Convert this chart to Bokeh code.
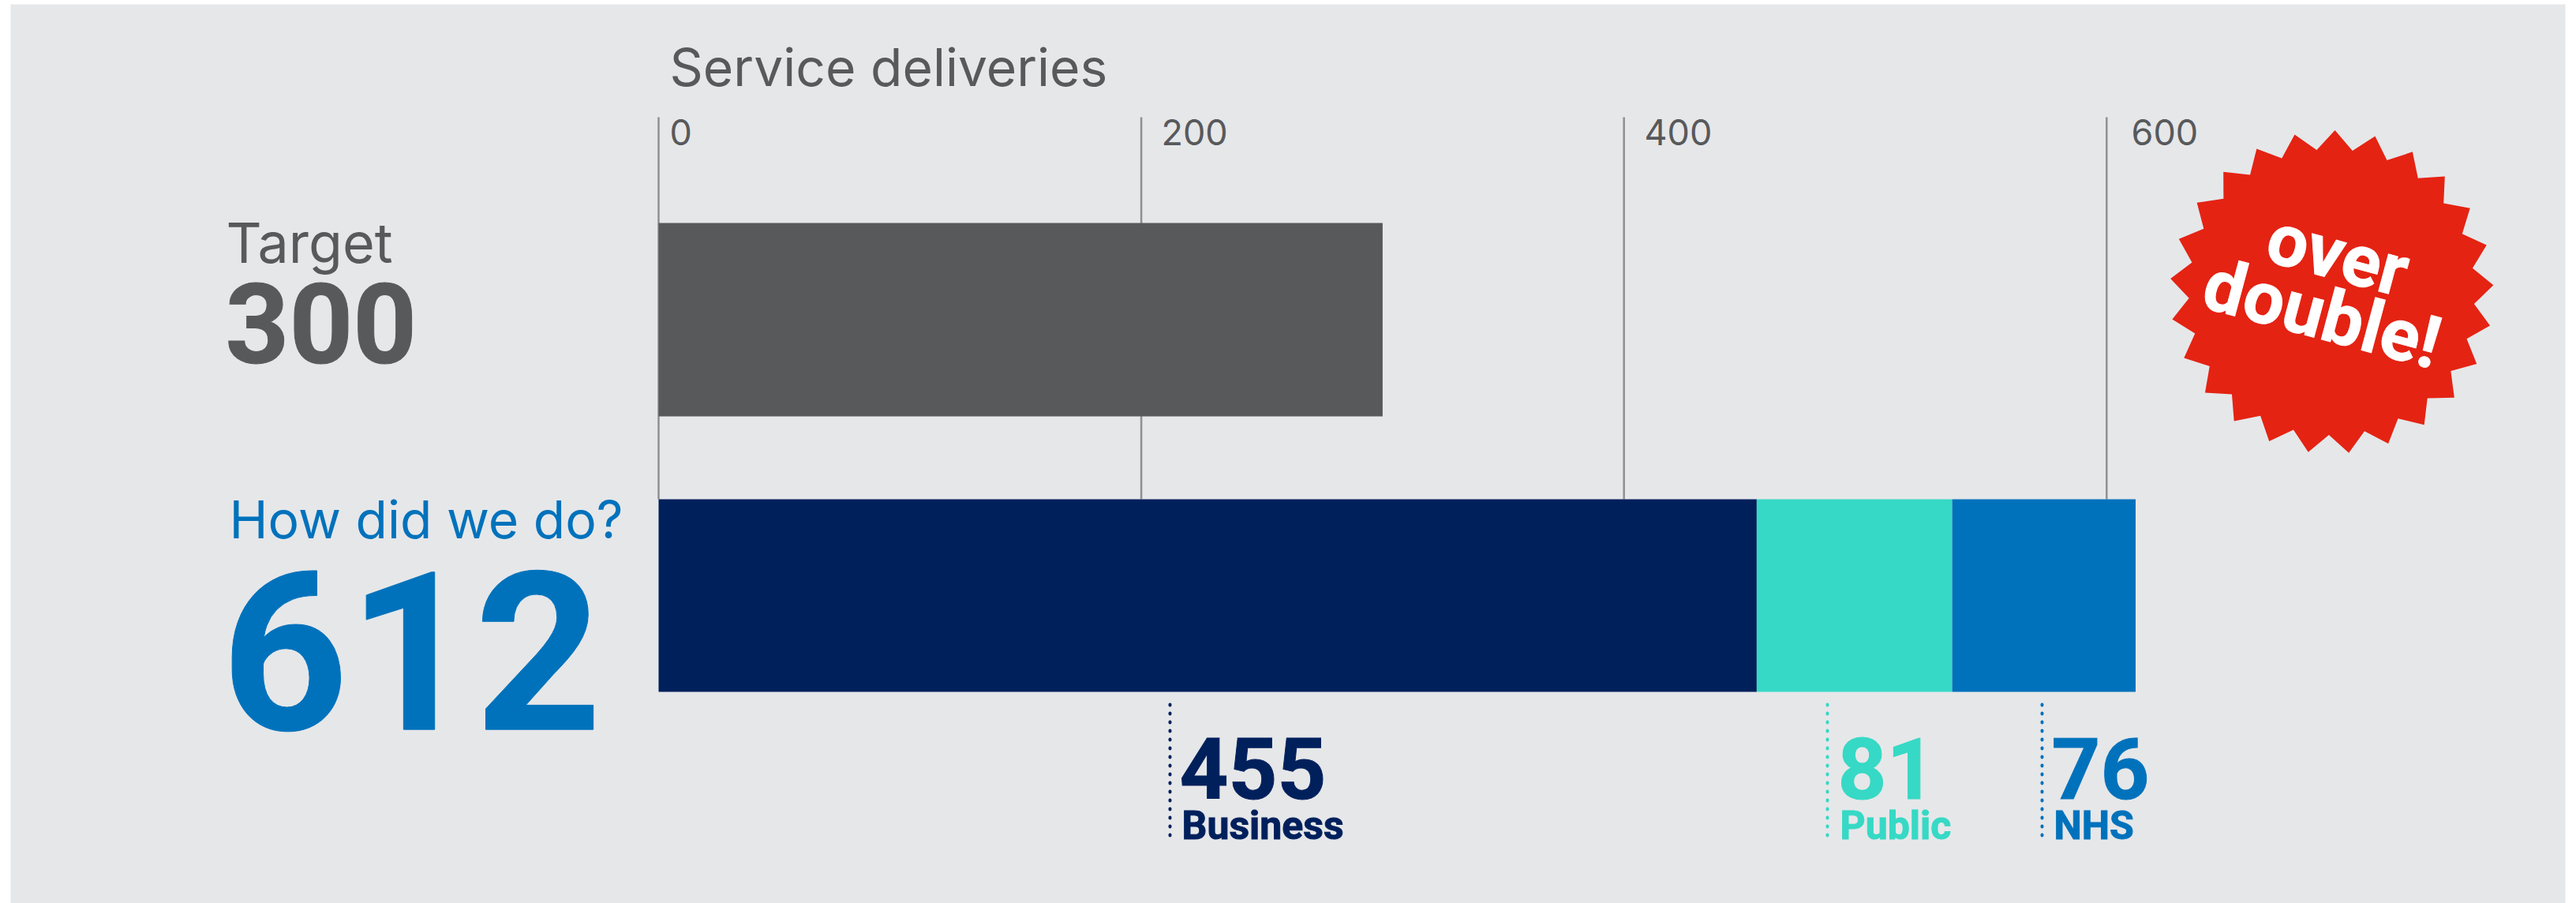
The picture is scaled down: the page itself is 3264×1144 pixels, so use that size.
from bokeh.core.properties import value
from bokeh.embed import file_html
from bokeh.models import Range1d
from bokeh.plotting import figure
from bokeh.resources import INLINE
import numpy as np

# Service delivery figures
ticks = [0, 200, 400, 600]
tick_labels = ["0", "200", "400", "600"]
target = 300
actual = 612
segment_names = ["Business", "Public", "NHS"]
segment_values = [455, 81, 76]

BG = "#E6E7E9"
GREY = "#58595B"
NAVY = "#00205C"
TEAL = "#36D9C5"
BLUE = "#0072BC"
RED = "#E42313"
seg_colors = [NAVY, TEAL, BLUE]

W, H = 3264, 1144
X0, PX_PER = 834.0, 3.058

p = figure(width=W, height=H, output_backend="svg", toolbar_location=None,
           x_range=Range1d(-X0 / PX_PER, (W - X0) / PX_PER),
           y_range=Range1d(H, 0), min_border=0,
           x_axis_location=None, y_axis_location=None,
           background_fill_color="white", border_fill_color="white",
           outline_line_color=None)
p.extra_x_ranges["px"] = Range1d(0, W)
p.xgrid.visible = False
p.ygrid.visible = False

# Panel behind everything
p.quad(left=[13], right=[3250], top=[5], bottom=[1144], x_range_name="px",
       fill_color=BG, line_color=None)

# Vertical reference lines at each tick
p.segment(x0=ticks, x1=ticks, y0=[148] * 4, y1=[632] * 4, line_color="#8E9093", line_width=2.5)

# Target bar and stacked result bar
p.hbar(y=[404.5], height=245, left=[0], right=[target], fill_color=GREY, line_color=None)
lefts = np.cumsum([0] + segment_values[:-1])
rights = np.cumsum(segment_values)
p.hbar(y=[754] * 3, height=244, left=lefts, right=rights, fill_color=seg_colors, line_color=None)


def txt(x, y, s, size, color, font="Inter", style="normal", angle=0, align="left",
        baseline="alphabetic", outline=False):
    # y is the wanted baseline; the svg text sits lower than it by a share of the size
    yy = y - 0.375 * size if baseline == "alphabetic" else y
    r = p.text(x=[x], y=[yy], text=[s], x_range_name="px", text_font=value(font),
               text_font_size=f"{size}px", text_font_style=style, text_color=color,
               angle=angle, angle_units="deg", text_align=align, text_baseline=baseline)
    if outline:
        r.glyph.text_outline_color = color
    return r


HEAVY = "Roboto"
txt(848, 109, "Service deliveries", 66, GREY)
for t, lab, xp in zip(ticks, tick_labels, [848, 1471, 2083, 2700]):
    txt(xp, 184, lab, 45, GREY)

txt(286, 333, "Target", 70, GREY)
txt(285, 462, str(target), 141, GREY, font=HEAVY, style="bold", outline=True)
txt(290, 682, "How did we do?", 66, BLUE)
txt(280, 928, str(actual), 280, BLUE, font=HEAVY, style="bold", outline=True)

# Segment callouts
for name, val, col, lx, tx in zip(segment_names, segment_values, seg_colors,
                                  [1482, 2315, 2587], [1494, 2328, 2599]):
    p.line(x=[lx, lx], y=[892, 1063], x_range_name="px", line_color=col, line_width=4,
           line_dash="1 10", line_cap="round")
    txt(tx, 1013, str(val), 108, col, font=HEAVY, style="bold", outline=True)
    txt(tx + 3, 1064, name, 50, col, font=HEAVY, style="bold", outline=True)

# Starburst badge
n = 25
ang = np.arange(2 * n) * np.pi / n - np.pi / 2 + 0.02
rad = np.where(np.arange(2 * n) % 2 == 0, 205, 181)
p.patch(x=2954 + rad * np.cos(ang), y=369.5 + rad * np.sin(ang), x_range_name="px",
        fill_color=RED, line_color=None)
txt(2962, 322, "over", 92, "white", font=HEAVY, style="bold", angle=-15, align="center", baseline="middle", outline=True)
txt(2942, 397, "double!", 92, "white", font=HEAVY, style="bold", angle=-15, align="center", baseline="middle", outline=True)

open("out.html", "w").write(file_html(p, INLINE))
